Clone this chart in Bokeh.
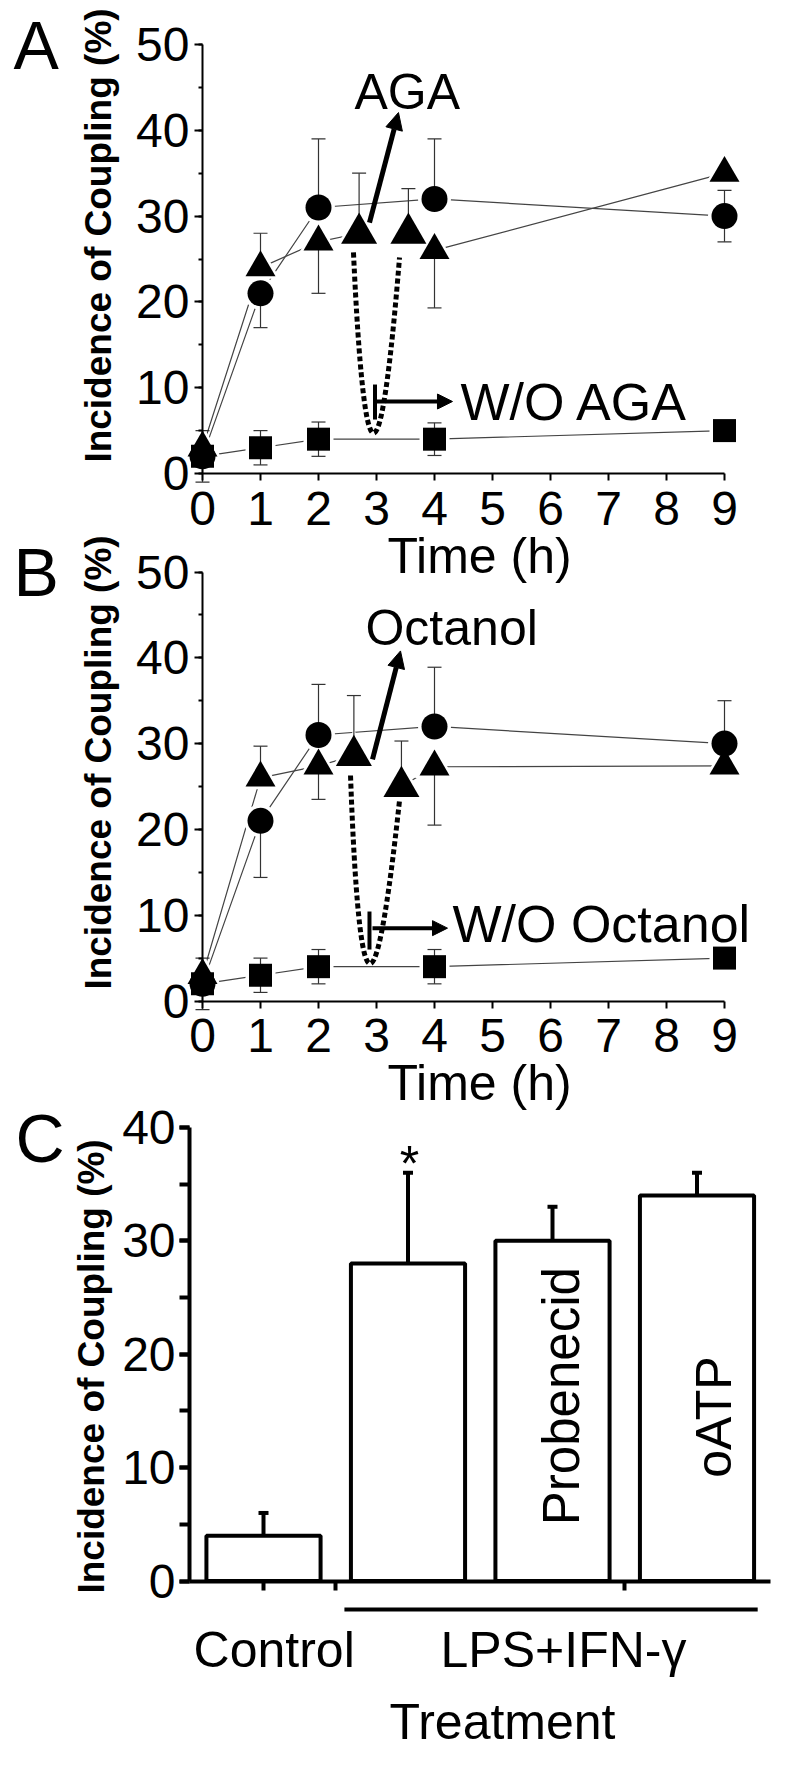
import math
from bokeh.plotting import figure
from bokeh.models import (Range1d, LinearAxis, SingleIntervalTicker, FixedTicker,
                          Label, Arrow, NormalHead)
from bokeh.embed import file_html
from bokeh.resources import INLINE

# ------------------------------------------------------------------ data
time_h = [0, 1, 2, 4, 9]
time_ticks = [0, 1, 2, 3, 4, 5, 6, 7, 8, 9]

# Panel A (AGA)
a_circle = [2, 21, 31, 32, 30]
a_circle_up = [3, 0, 8, 7, 3]
a_circle_dn = [3, 4, 0, 0, 3]
a_square = [2, 3, 4, 4, 5]
a_square_err = [0, 2, 2, 1.9, 0]
a_tri_time = [0, 1, 2, 2.7, 3.55, 4, 9]
a_tri = [3, 24, 27, 28, 28, 26, 35]
a_tri_up = [0, 4, 0, 7, 5.2, 0, 0]
a_tri_dn = [0, 0, 6, 0, 0, 6.7, 0]

# Panel B (Octanol)
b_circle = [2, 21, 31, 32, 30]
b_circle_up = [3, 0, 5.9, 6.9, 5]
b_circle_dn = [3, 6.6, 0, 0, 0]
b_square = [2, 3, 4, 4, 5]
b_square_err = [0, 2, 2, 2, 0]
b_tri_time = [0, 1, 2, 2.61, 3.43, 4, 9]
b_tri = [3, 26, 27.4, 28.6, 25, 27.3, 27.4]
b_tri_up = [0, 3.7, 0, 7, 5.3, 0, 0]
b_tri_dn = [0, 0, 3.9, 0, 0, 6.8, 0]

# blocker applied / washed out (drawn larger); triangle line restarts after washout
tri_treated = [False, False, False, True, True, False, False]
tri_break = 4

# Panel C
c_labels = ["Control", "LPS+IFN-γ", "Probenecid", "oATP"]
c_values = [4, 28, 30, 34]
c_err = [2, 8, 3, 2]
c_star = [False, True, False, False]

# ------------------------------------------------------------------ style / layout
FONT = "Liberation Sans"
W, H = 784, 1749
LINE_C = "#444444"
TOP, BOT = 8.0, 8.0 + H            # page pixels of canvas top / bottom
LEFT, RIGHT = 8.0, 8.0 + W

# panels A/B geometry in page pixels
T0, PXH = 210.0, 58.0              # t = 0 position, px per hour
A0, B0, PXP = 481.0, 1008.5, 8.58  # 0 % positions, px per %
# panel C geometry in page pixels
C_X0, C_PXI = 271.0, 144.5
C_Y0, C_PXP = 1588.5, 11.34

p = figure(width=W, height=H,
           x_range=Range1d((LEFT - T0) / PXH, (RIGHT - T0) / PXH),
           y_range=Range1d((A0 - BOT) / PXP, (A0 - TOP) / PXP),
           x_axis_type=None, y_axis_type=None, toolbar_location=None,
           output_backend="svg", min_border=0, outline_line_color=None,
           background_fill_color="white", border_fill_color="white")
p.extra_y_ranges = {"b": Range1d((B0 - BOT) / PXP, (B0 - TOP) / PXP),
                    "c": Range1d((C_Y0 - BOT) / C_PXP, (C_Y0 - TOP) / C_PXP)}
p.extra_x_ranges = {"c": Range1d((LEFT - C_X0) / C_PXI, (RIGHT - C_X0) / C_PXI)}


def time_axes(fig, yname):
    ya = LinearAxis(y_range_name=yname, fixed_location=0, bounds=(0, 50),
                    ticker=SingleIntervalTicker(interval=10, num_minor_ticks=2),
                    axis_line_width=2, major_tick_line_width=2, minor_tick_line_width=2,
                    major_tick_in=0, major_tick_out=8, minor_tick_in=0, minor_tick_out=4,
                    major_label_standoff=5, major_label_text_font=FONT,
                    major_label_text_font_size="48px", major_label_text_color="black")
    fig.add_layout(ya, "left")
    xa = LinearAxis(y_range_name=yname, fixed_location=0, bounds=(0, 9),
                    ticker=FixedTicker(ticks=time_ticks),
                    axis_line_width=2, major_tick_line_width=2,
                    major_tick_in=0, major_tick_out=7, minor_tick_out=0,
                    major_label_standoff=11, major_label_text_font=FONT,
                    major_label_text_font_size="48px", major_label_text_color="black")
    fig.add_layout(xa, "below")


def errbars(fig, t, v, up, dn, yname, cap, lw, color):
    xs, y0, y1, cx, cy = [], [], [], [], []
    for ti, vi, u, d in zip(t, v, up, dn):
        if u > 0 or d > 0:
            xs.append(ti); y0.append(vi - d); y1.append(vi + u)
        if u > 0:
            cx.append(ti); cy.append(vi + u)
        if d > 0:
            cx.append(ti); cy.append(vi - d)
    fig.segment(x0=xs, y0=y0, x1=xs, y1=y1, line_color=color, line_width=lw, y_range_name=yname)
    fig.scatter(cx, cy, marker="dash", size=cap, line_color=color, line_width=lw, y_range_name=yname)


def time_panel(fig, yname, circ, c_up, c_dn, sq, sq_err, t_tri, tri, t_up, t_dn):
    kw = dict(y_range_name=yname)
    tri_sizes = [36 if b else 30 for b in tri_treated]
    # connecting lines
    fig.line(time_h, circ, line_color=LINE_C, line_width=1.2, **kw)
    fig.line(time_h, sq, line_color=LINE_C, line_width=1.2, **kw)
    fig.line(t_tri[:tri_break], tri[:tri_break], line_color=LINE_C, line_width=1.2, **kw)
    fig.line(t_tri[tri_break:], tri[tri_break:], line_color=LINE_C, line_width=1.2, **kw)
    # white halos (gap between line and symbol)
    fig.scatter(time_h, circ, marker="circle", size=33, fill_color="white", line_color=None, **kw)
    fig.scatter(time_h, sq, marker="square", size=30, fill_color="white", line_color=None, **kw)
    fig.scatter(t_tri, tri, marker="triangle", size=[s + 9 for s in tri_sizes],
                fill_color="white", line_color=None, **kw)
    # error bars
    errbars(fig, time_h, circ, c_up, c_dn, yname, 14, 1.2, "#333333")
    errbars(fig, time_h, sq, sq_err, sq_err, yname, 14, 1.2, "#333333")
    errbars(fig, t_tri, tri, t_up, t_dn, yname, 14, 1.2, "#333333")
    # symbols
    fig.scatter(t_tri, tri, marker="triangle", size=tri_sizes, fill_color="black", line_color=None, **kw)
    fig.scatter(time_h, circ, marker="circle", size=26, fill_color="black", line_color=None, **kw)
    fig.scatter(time_h, sq, marker="square", size=23, fill_color="black", line_color=None, **kw)
    time_axes(fig, yname)


def lab(text, x, y, size, align="left", angle=0.0, style="normal",
        baseline="alphabetic", xname="default", yname="default"):
    p.add_layout(Label(x=x, y=y, text=text, text_font=FONT, text_font_size=size,
                       text_align=align, text_baseline=baseline, angle=angle,
                       text_font_style=style, text_color="black",
                       x_range_name=xname, y_range_name=yname))


def arrow(x0, y0, x1, y1, yname, lw, head):
    p.add_layout(Arrow(end=NormalHead(size=head, fill_color="black", line_color="black", line_width=1),
                       x_start=x0, y_start=y0, x_end=x1, y_end=y1,
                       line_width=lw, line_color="black", y_range_name=yname))


time_panel(p, "default", a_circle, a_circle_up, a_circle_dn, a_square, a_square_err,
           a_tri_time, a_tri, a_tri_up, a_tri_dn)
time_panel(p, "b", b_circle, b_circle_up, b_circle_dn, b_square, b_square_err,
           b_tri_time, b_tri, b_tri_up, b_tri_dn)

# ---- panel A annotations
p.bezier(x0=[2.603], y0=[25.76], x1=[3.397], y1=[25.17], cx0=[2.793], cy0=[-2.21],
         cx1=[3.069], cy1=[-2.21], line_width=5, line_dash="5 3", line_color="black")
arrow(2.879, 29.25, 3.379, 42.07, "default", 5, 17)
p.segment(x0=[2.974], y0=[6.29], x1=[2.974], y1=[10.37], line_width=4, line_color="black")
arrow(3.0, 8.39, 4.31, 8.39, "default", 4, 15)
lab("AGA", 2.62, 44.52, "50px")
lab("W/O AGA", 4.448, 8.34, "52px")
lab("A", -3.259, 49.92, "68px")
lab("Time (h)", 4.776, -9.56, "50px", align="center")
lab("Incidence of Coupling (%)", -1.793, 27.74, "37px", align="center",
    baseline="middle", angle=math.pi / 2, style="bold")

# ---- panel B annotations
p.bezier(x0=[2.552], y0=[26.28], x1=[3.397], y1=[23.37], cx0=[2.707], cy0=[-2.45],
         cx1=[2.983], cy1=[-2.45], line_width=5, line_dash="5 3", line_color="black",
         y_range_name="b")
arrow(2.931, 28.16, 3.414, 40.8, "b", 5, 17)
p.segment(x0=[2.879], y0=[6.0], x1=[2.879], y1=[10.43], line_width=4, line_color="black",
          y_range_name="b")
arrow(2.931, 8.49, 4.224, 8.49, "b", 4, 15)
lab("Octanol", 2.81, 43.53, "50px", yname="b")
lab("W/O Octanol", 4.31, 8.99, "52px", yname="b")
lab("B", -3.259, 49.98, "68px", yname="b")
lab("Time (h)", 4.776, -9.5, "50px", align="center", yname="b")
lab("Incidence of Coupling (%)", -1.793, 27.8, "37px", align="center",
    baseline="middle", angle=math.pi / 2, style="bold", yname="b")

# ------------------------------------------------------------------ panel C
ck = dict(x_range_name="c", y_range_name="c")
idx = list(range(len(c_values)))
y_axis_x = -0.512
p.vbar(x=idx, top=c_values, bottom=0, width=0.79, fill_color="white",
       line_color="black", line_width=4, **ck)
c_hi = [v + e for v, e in zip(c_values, c_err)]
p.segment(x0=idx, y0=c_values, x1=idx, y1=c_hi, line_color="black", line_width=4, **ck)
p.scatter(idx, c_hi, marker="dash", size=10, line_color="black", line_width=4, **ck)

cy_ax = LinearAxis(fixed_location=y_axis_x, bounds=(0, 40),
                   ticker=SingleIntervalTicker(interval=10, num_minor_ticks=2),
                   axis_line_width=4, major_tick_line_width=4, minor_tick_line_width=4,
                   major_tick_in=0, major_tick_out=10, minor_tick_in=0, minor_tick_out=10,
                   major_label_standoff=4, major_label_text_font=FONT,
                   major_label_text_font_size="48px", major_label_text_color="black", **ck)
p.add_layout(cy_ax, "left")
cx_ticks = [0, 0.5, 2.5]
cx_ax = LinearAxis(fixed_location=0, bounds=(y_axis_x, 3.51),
                   ticker=FixedTicker(ticks=cx_ticks),
                   axis_line_width=4, major_tick_line_width=4, major_tick_in=0,
                   major_tick_out=9, minor_tick_out=0,
                   major_label_overrides={t: "" for t in cx_ticks}, **ck)
p.add_layout(cx_ax, "below")

for i, s in enumerate(c_star):
    if s:
        lab("*", i + 0.01, c_hi[i] + 0.76, "50px", align="center", xname="c", yname="c")

lab(c_labels[2], 2.062, 16.3, "51px", align="center", angle=math.pi / 2, xname="c", yname="c")
lab(c_labels[3], 3.121, 14.46, "50px", align="center", angle=math.pi / 2, xname="c", yname="c")
lab(c_labels[0], 0.074, -6.05, "50px", align="center", xname="c", yname="c")
lab(c_labels[1], 2.076, -6.05, "50px", align="center", xname="c", yname="c")
p.segment(x0=[1 - 0.44], y0=[-2.51], x1=[3 + 0.42], y1=[-2.51], line_color="black",
          line_width=4, **ck)
lab("Treatment", 1.654, -12.47, "50px", align="center", xname="c", yname="c")
lab("C", -1.716, 39.05, "68px", xname="c", yname="c")
lab("Incidence of Coupling (%)", -1.19, 18.92, "37px", align="center",
    baseline="middle", angle=math.pi / 2, style="bold", xname="c", yname="c")

open("out.html", "w").write(file_html(p, INLINE, "Incidence of Coupling"))
